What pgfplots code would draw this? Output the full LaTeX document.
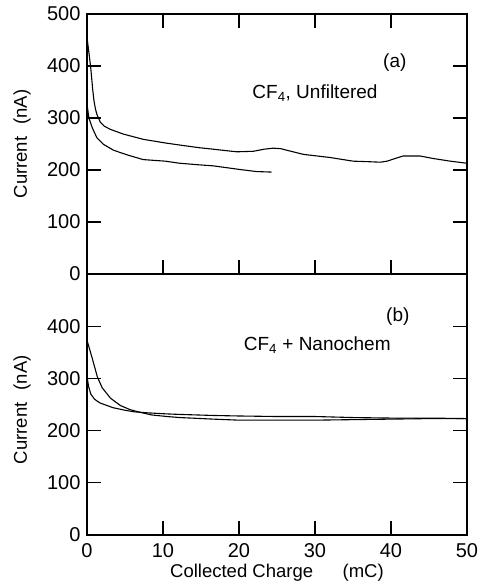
\documentclass[border=0pt]{standalone}
\usepackage{fontspec}
\setmainfont{Liberation Sans}
\usepackage{pgfplots}
\pgfplotsset{compat=1.18}
\begin{document}
\begin{tikzpicture}
\pgfplotsset{
 common/.style={
  scale only axis, width=380pt,
  xmin=0,xmax=50,ymin=0,ymax=500,
  axis line style={line width=1.1pt},
  tick style={line width=1.1pt, black},
  major tick length=14pt,
  tick align=inside,
  tick label style={font=\fontsize{20}{20}\selectfont},
  /pgf/number format/assume math mode=true,
  label style={font=\fontsize{18.5}{18.5}\selectfont},
  yticklabel style={xshift=-3pt},
 },
 curve/.style={black, line width=1.1pt, no marks},
}
\path (0,0) rectangle (486pt,-587pt);
\begin{axis}[common, at={(87pt,-14pt)}, anchor=north west, height=260pt,
  xtick={10,20,30,40}, xticklabels={}, ytick={0,100,...,500},
  ylabel={Current\hspace{0.65em}(nA)}, ylabel style={at={(axis description cs:-0.171,0.5)}, anchor=center}]
\addplot[curve] coordinates {(0,455)(0.3,420)(0.5,395)(0.75,355)(0.9,335)(1.1,318)(1.3,307)(1.75,292)(2.3,284)(3.1,278)(4.8,269)(7.4,259)(10.3,252)(12.2,248)(14.7,243)(16.6,240)(19.7,235)(21.9,236)(23.3,240)(24.5,242)(25.5,241)(26.3,238)(28.5,230)(32,224)(35,217)(37,216)(38.6,215)(39.5,217)(40.3,221)(41.6,227)(43.8,227)(45.6,222)(47.8,217)(50,213)};
\addplot[curve] coordinates {(0,327)(0.25,300)(0.7,281)(1.3,262)(2.2,249)(3.5,238)(5.3,229)(7.4,220)(10.3,217)(12.2,213)(14.7,210)(16.6,208)(20.1,201)(22.3,197)(24.3,196)};
\node[font=\fontsize{19}{19}\selectfont] at (axis cs:40.5,406) {(a)};
\node[font=\fontsize{19}{19}\selectfont] at (axis cs:30,348) {CF\textsubscript{4}, Unfiltered};
\end{axis}
\begin{axis}[common, at={(87pt,-274pt)}, anchor=north west, height=261pt,
  xtick={0,10,...,50}, xtick pos=left, ytick={0,100,...,400},
  xticklabel style={yshift=-5pt},
  xlabel={Collected Charge\hspace{1.6em}(mC)},
  ylabel={Current\hspace{0.65em}(nA)}, ylabel style={at={(axis description cs:-0.171,0.48)}, anchor=center}]
\addplot[curve] coordinates {(0,373)(0.7,338)(1.36,303)(2,282)(3.1,262)(4.4,248)(5.7,240)(7,235)(8.5,230)(10.5,227)(12.2,225)(16.6,222)(20,220)(25,220)(30,220)(35,221)(40,222)(45,223)(50,223)};
\addplot[curve] coordinates {(0,305)(0.2,285)(0.5,270)(1,260)(1.7,253)(3.4,244)(5,239)(6.2,236)(8,234)(10.5,232)(12.2,231)(16.6,229)(20,228)(25,227)(30,227)(35,225)(40,224)(45,224)(50,223)};
\node[font=\fontsize{19}{19}\selectfont] at (axis cs:40.9,418) {(b)};
\node[font=\fontsize{19}{19}\selectfont] at (axis cs:30.3,364) {CF\textsubscript{4} + Nanochem};
\end{axis}
\end{tikzpicture}
\end{document}
